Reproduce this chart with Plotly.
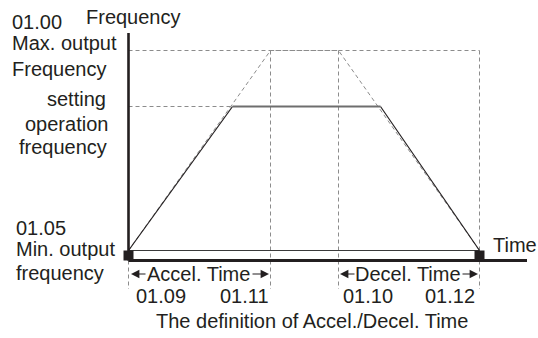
import plotly.graph_objects as go

W, H = 538, 338

# ---- data (schematic time / frequency values, arbitrary units) ----
t_points = [0.0, 10.4, 14.2, 21.0, 25.2, 35.1]   # start, reach set, reach max, decel start(max), decel set, end
f_min = 1.0
f_set = 15.4
f_max = 21.0
axis_top = 22.75        # top of frequency axis
time_axis_end = 39.85   # right end of time axis
guide_bottom = -2.85    # lower end of dashed guide lines

t0, t_acc_set, t_acc_max, t_dec_max, t_dec_set, t_end = t_points

profile_t = [t0, t_acc_set, t_dec_set, t_end]
profile_f = [f_min, f_set, f_set, f_min]
max_profile_t = [t0, t_acc_max, t_dec_max, t_end]
max_profile_f = [f_min, f_max, f_max, f_min]

square_t = [t0, t_end]

# ---- layout mapping (pixel <-> data) ----
X0_PX, SCALE, Y0_PX = 128.5, 10.0, 260.5
x_range = [(0 - X0_PX) / SCALE, (W - X0_PX) / SCALE]
y_range = [(Y0_PX - H) / SCALE, (Y0_PX - 0) / SCALE]

TXT = "#231f20"
GUIDE = "#8c8c8c"
FONT = "Liberation Sans, Arial, sans-serif"
FS = 20

fig = go.Figure()

def line(xs, ys, color, width, dash="solid"):
    fig.add_trace(go.Scatter(x=xs, y=ys, mode="lines",
                             line=dict(color=color, width=width, dash=dash),
                             hoverinfo="skip"))

dash = "4px,3px"
# dashed guides
line([t0, t_end], [f_max, f_max], GUIDE, 1, dash)
line([t0, t_acc_set], [f_set, f_set], GUIDE, 1, dash)
for tv in [t_acc_max, t_dec_max, t_end]:
    line([tv, tv], [f_max, guide_bottom], GUIDE, 1, dash)
line([t0, t0], [0, guide_bottom], GUIDE, 1, dash)
# dashed max-frequency profile
line(max_profile_t, max_profile_f, GUIDE, 1, dash)

# min frequency line
line([t0, t_end], [f_min, f_min], "#3a3a3a", 1)
# solid profile: ramps black, flat part gray
line(profile_t[:2], profile_f[:2], TXT, 1.2)
line(profile_t[2:], profile_f[2:], TXT, 1.2)
line(profile_t[1:3], profile_f[1:3], "#6e6e6e", 2.2)

# axes
line([t0, t0], [0, axis_top], TXT, 2.6)
line([t0, time_axis_end], [0, 0], TXT, 3)

# black squares at min-frequency points
fig.add_trace(go.Scatter(x=square_t, y=[f_min / 2] * 2, mode="markers",
                         marker=dict(symbol="square", size=10, color=TXT),
                         hoverinfo="skip"))

def px(x):
    return x / W

def py(y):
    return 1 - y / H

def text(s, x, y, xanchor="left", size=FS):
    fig.add_annotation(text=s, x=px(x), y=py(y), xref="paper", yref="paper",
                       xanchor=xanchor, yanchor="middle", showarrow=False,
                       borderpad=0,
                       font=dict(family=FONT, size=size, color=TXT))

def arrow(hx, hy, tail_dx):
    fig.add_annotation(text="", x=px(hx), y=py(hy), xref="paper", yref="paper",
                       ax=tail_dx, ay=0, showarrow=True, arrowhead=2,
                       arrowsize=1.4, arrowwidth=1.2, arrowcolor=TXT)

text("01.00", 11, 22)
text("Frequency", 85, 17)
text("Max. output", 11, 42.5)
text("Frequency", 11, 69)
text("setting", 107, 99, "right")
text("operation", 109, 124, "right")
text("frequency", 108, 147, "right")
text("01.05", 15, 227.5)
text("Min. output", 15, 248.5)
text("frequency", 15, 273)
text("Time", 492, 244.5)

text("Accel. Time", 198, 273.5, "center")
arrow(131, 274, 16)
arrow(269, 274, -18)
text("Decel. Time", 408, 273.5, "center")
arrow(340, 274, 16)
arrow(478, 274, -17)

text("01.09", 135, 295.5)
text("01.11", 219, 295.5)
text("01.10", 342, 295.5)
text("01.12", 424, 295.5)
text("The definition of Accel./Decel. Time", 312, 321, "center")

fig.update_layout(
    width=W, height=H,
    margin=dict(l=0, r=0, t=0, b=0),
    paper_bgcolor="white", plot_bgcolor="white",
    showlegend=False,
    xaxis=dict(range=x_range, visible=False, fixedrange=True),
    yaxis=dict(range=y_range, visible=False, fixedrange=True),
)

fig.write_html("out.html", config={"displayModeBar": False},
               post_script="document.body.style.margin='0';")
